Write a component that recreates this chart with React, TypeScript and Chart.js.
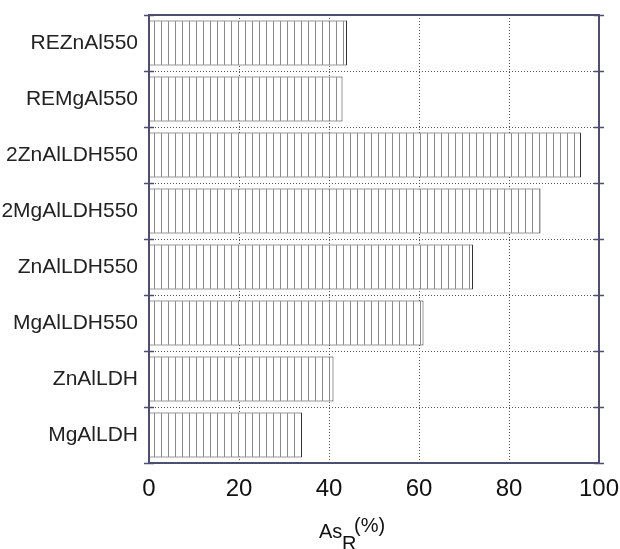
import React, { useEffect, useRef } from "react";
import { Chart, registerables } from "chart.js";

Chart.register(...registerables);

const categories = [
  "REZnAl550",
  "REMgAl550",
  "2ZnAlLDH550",
  "2MgAlLDH550",
  "ZnAlLDH550",
  "MgAlLDH550",
  "ZnAlLDH",
  "MgAlLDH",
];
const asR = [44, 43, 96, 87, 72, 61, 41, 34];
const xTicks = [0, 20, 40, 60, 80, 100];
const gridValues = [20, 40, 60, 80];

const FONT = "'Liberation Sans', Arial, sans-serif";
const FRAME = "#4e4e72";

function makePattern(): CanvasPattern | string {
  const c = document.createElement("canvas");
  c.width = 7;
  c.height = 8;
  const g = c.getContext("2d");
  if (!g) return "#fff";
  g.fillStyle = "#ffffff";
  g.fillRect(0, 0, 7, 8);
  g.fillStyle = "#8a8a8a";
  g.fillRect(0, 0, 1, 8);
  const p = g.createPattern(c, "repeat");
  return p || "#fff";
}

const framePlugin = {
  id: "framePlugin",
  beforeDatasetsDraw(chart: any) {
    const { ctx, chartArea } = chart;
    const xs = chart.scales.x;
    const ys = chart.scales.y;
    ctx.save();
    ctx.strokeStyle = "#555";
    ctx.lineWidth = 1;
    ctx.setLineDash([1, 2]);
    gridValues.forEach((v) => {
      const x = Math.round(xs.getPixelForValue(v)) + 0.5;
      ctx.beginPath();
      ctx.moveTo(x, chartArea.top);
      ctx.lineTo(x, chartArea.bottom);
      ctx.stroke();
    });
    for (let i = 1; i < categories.length; i++) {
      const y =
        Math.round((ys.getPixelForValue(i - 1) + ys.getPixelForValue(i)) / 2) + 0.5;
      ctx.beginPath();
      ctx.moveTo(chartArea.left, y);
      ctx.lineTo(chartArea.right, y);
      ctx.stroke();
    }
    ctx.restore();
  },
  afterDatasetsDraw(chart: any) {
    const { ctx, chartArea } = chart;
    const ys = chart.scales.y;
    ctx.save();
    ctx.strokeStyle = FRAME;
    ctx.lineWidth = 2;
    ctx.setLineDash([]);
    ctx.strokeRect(
      chartArea.left,
      chartArea.top,
      chartArea.right - chartArea.left,
      chartArea.bottom - chartArea.top
    );
    ctx.lineWidth = 1.5;
    const n = categories.length;
    const step = ys.getPixelForValue(1) - ys.getPixelForValue(0);
    for (let i = 0; i <= n; i++) {
      const y = Math.round(ys.getPixelForValue(0) - step / 2 + i * step) + 0.5;
      ctx.beginPath();
      ctx.moveTo(chartArea.left - 5, y);
      ctx.lineTo(chartArea.left + 5, y);
      ctx.moveTo(chartArea.right - 5, y);
      ctx.lineTo(chartArea.right + 5, y);
      ctx.stroke();
    }
    ctx.restore();
  },
  afterDraw(chart: any) {
    const { ctx } = chart;
    ctx.save();
    ctx.fillStyle = "#111";
    ctx.textBaseline = "alphabetic";
    ctx.textAlign = "left";
    ctx.font = `20px ${FONT}`;
    ctx.fillText("As", 319, 538);
    ctx.fillText("R", 342, 550);
    ctx.fillText("(%)", 354, 532);
    ctx.restore();
  },
};

function zeroPadding(scale: any) {
  scale.paddingLeft = 0;
  scale.paddingRight = 0;
  scale.paddingTop = 0;
  scale.paddingBottom = 0;
}

export default function App() {
  const ref = useRef<HTMLCanvasElement | null>(null);
  useEffect(() => {
    if (!ref.current) return;
    const pattern = makePattern();
    const chart = new Chart(ref.current, {
      type: "bar",
      data: {
        labels: categories,
        datasets: [
          {
            data: asR,
            backgroundColor: pattern as any,
            borderColor: "#333",
            borderWidth: 1,
            borderSkipped: false,
            barPercentage: 0.8,
            categoryPercentage: 1.0,
          },
        ],
      },
      options: {
        indexAxis: "y",
        responsive: false,
        animation: false,
        devicePixelRatio: 1,
        layout: { padding: { left: 0, right: 21, top: 15, bottom: 0 } },
        plugins: {
          legend: { display: false },
          tooltip: { enabled: false },
          title: { display: false },
        },
        scales: {
          x: {
            type: "linear",
            min: 0,
            max: 100,
            afterBuildTicks: (scale: any) => {
              scale.ticks = xTicks.map((v) => ({ value: v }));
            },
            afterFit: (scale: any) => {
              scale.height = 86;
              zeroPadding(scale);
            },
            grid: { display: false, drawTicks: false },
            border: { display: false },
            ticks: {
              padding: 12,
              color: "#111",
              font: { family: FONT, size: 24 },
              maxRotation: 0,
            },
          },
          y: {
            type: "category",
            afterFit: (scale: any) => {
              scale.width = 149;
              zeroPadding(scale);
            },
            grid: { display: false, drawTicks: false },
            border: { display: false },
            ticks: {
              padding: 11,
              color: "#222",
              font: { family: FONT, size: 21 },
            },
          },
        },
      },
      plugins: [framePlugin],
    });
    return () => chart.destroy();
  }, []);
  return (
    <div style={{ position: "fixed", left: 0, top: 0, width: 620, height: 549, background: "#fff" }}>
      <canvas ref={ref} width={620} height={549} />
    </div>
  );
}
